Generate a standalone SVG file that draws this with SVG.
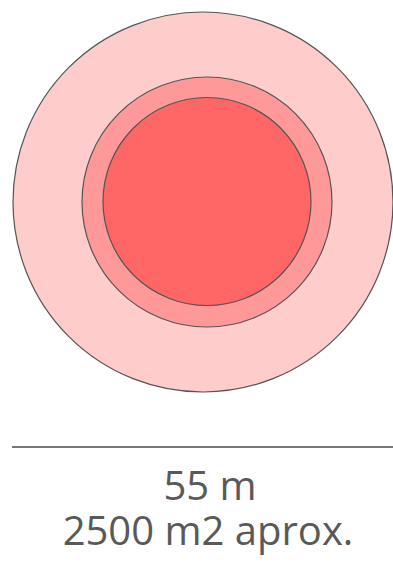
<svg xmlns="http://www.w3.org/2000/svg" width="393" height="567" viewBox="0 0 393 567">
<style>
.ring{stroke:#555;stroke-width:1.2}
.lbl{font-family:"Open Sans","Noto Sans",sans-serif;fill:#595959;text-anchor:middle}
</style>
<rect width="393" height="567" fill="#fff"/>
<g id="outer"><circle class="ring" cx="203" cy="202" r="190" fill="#FFCCCC"/></g>
<g id="middle"><circle class="ring" cx="207" cy="202" r="125" fill="#FF9999"/></g>
<g id="inner"><circle class="ring" cx="207" cy="201.5" r="104" fill="#FF6666"/></g>
<g id="scale">
<line x1="12" y1="447" x2="393" y2="447" stroke="#777" stroke-width="2"/>
<text class="lbl" x="210" y="500" font-size="40">55 m</text>
<text class="lbl" x="208" y="545" font-size="40">2500 m2 aprox.</text>
</g>
</svg>
